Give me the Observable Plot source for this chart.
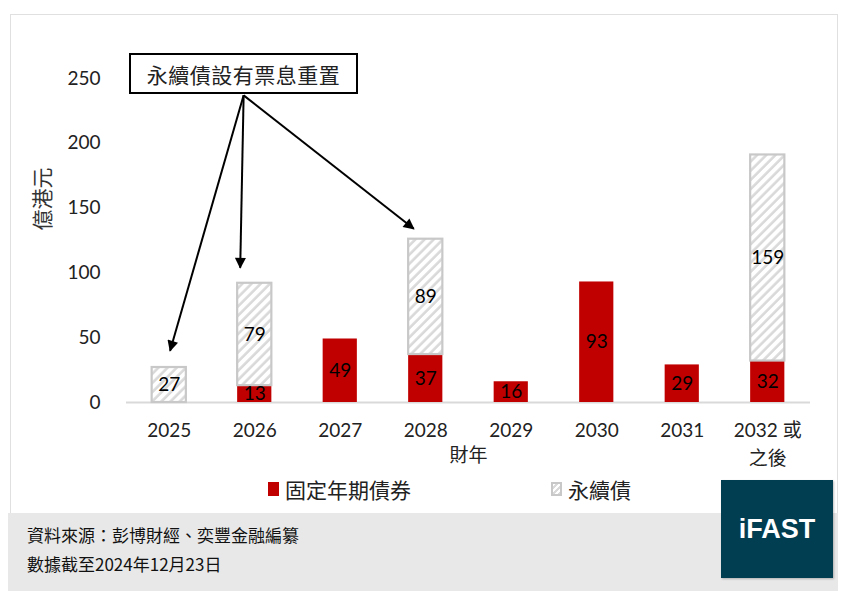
<!DOCTYPE html>
<html>
<head>
<meta charset="utf-8">
<script src="https://cdn.jsdelivr.net/npm/d3@7"></script>
<script src="https://cdn.jsdelivr.net/npm/@observablehq/plot@0.6"></script>
<style>
  html, body { margin: 0; padding: 0; background: #fff; }
  body { width: 847px; height: 602px; position: relative; overflow: hidden;
         font-family: Lato, "Noto Sans CJK TC", sans-serif; }
  #panel { position: absolute; left: 10px; top: 14px; width: 828px; height: 520px;
           border: 1px solid #e0e0e0; background: #fff; box-sizing: border-box; }
  #chart { position: absolute; left: 0; top: 0; }
  #annot { position: absolute; left: 129px; top: 53px; width: 229px; height: 41px;
           border: 2px solid #000; box-sizing: border-box; background: #fff;
           font-family: "Noto Sans CJK TC", sans-serif; font-size: 21px; color: #222;
           display: flex; align-items: center; justify-content: center; letter-spacing: 0.5px; }
  #legend { position: absolute; top: 475px; left: 0; width: 847px; height: 28px;
            font-family: "Noto Sans CJK TC", sans-serif; font-size: 21px; color: #222; }
  .lg { position: absolute; top: 0; display: flex; align-items: center; height: 28px; }
  .sw { width: 11px; height: 14px; margin-right: 6px; box-sizing: border-box; }
  #footer { position: absolute; left: 8px; top: 513px; width: 830px; height: 78px; background: #e8e8e8; }
  .ft { position: absolute; left: 19px; font-family: "Noto Sans CJK TC", sans-serif; font-size: 17px; color: #111; }
  #logo { position: absolute; left: 721px; top: 480px; width: 112px; height: 98px; background: #023e51;
          color: #fff; font-family: "Liberation Sans", Arial, sans-serif; font-weight: bold; font-size: 27px;
          display: flex; align-items: center; justify-content: center; box-shadow: 1px 1px 2px rgba(0,0,0,0.25); }
</style>
</head>
<body>
<div id="panel"></div>
<div id="chart"></div>
<div id="annot">永續債設有票息重置</div>
<div id="legend">
  <div class="lg" style="left:268px"><div class="sw" style="background:#c00000"></div>固定年期債券</div>
  <div class="lg" style="left:551px"><div class="sw" style="border:2px solid #c8c8c8;background:repeating-linear-gradient(135deg,#fff 0 2px,#d9d9d9 2px 4px)"></div>永續債</div>
</div>
<div id="footer">
  <div class="ft" style="top:9px">資料來源：彭博財經、奕豐金融編纂</div>
  <div class="ft" style="top:38px">數據截至2024年12月23日</div>
</div>
<div id="logo">iFAST</div>
<script>
// ---- data ----
const years = [2025, 2026, 2027, 2028, 2029, 2030, 2031, 2032];
const xTickLabels = ["2025", "2026", "2027", "2028", "2029", "2030", "2031", "2032 或\n之後"];
const fixedValues = [0, 13, 49, 37, 16, 93, 29, 32];        // 固定年期債券
const perpetualValues = [27, 79, 0, 89, 0, 0, 0, 159];      // 永續債
const yTicks = [0, 50, 100, 150, 200, 250];
const seriesNames = ["固定年期債券", "永續債"];
const yLabel = "億港元";
const xLabel = "財年";
// annotation arrows (data coordinates): from box to bars
const arrowStart = {x: 2025.87, y: 237};
const arrowTargets = [
  {x: 2025.01, y: 40},
  {x: 2025.83, y: 104},
  {x: 2027.86, y: 134}
];

// ---- derived rows ----
const fixedRows = years.map((yr, i) => ({year: yr, value: fixedValues[i], y1: 0, y2: fixedValues[i]}))
  .filter(d => d.value > 0);
const perpRows = years.map((yr, i) => ({year: yr, value: perpetualValues[i], y1: fixedValues[i], y2: fixedValues[i] + perpetualValues[i]}))
  .filter(d => d.value > 0);
const arrows = arrowTargets.map(t => ({x1: arrowStart.x, y1: arrowStart.y, x2: t.x, y2: t.y}));

const half = 0.2;
const font = 'Lato, "Noto Sans CJK TC", sans-serif';

const chart = Plot.plot({
  width: 847,
  height: 470,
  marginLeft: 126,
  marginRight: 37,
  marginTop: 78,
  marginBottom: 68,
  style: {fontFamily: font, fontSize: "19px", color: "#222", background: "transparent", overflow: "visible"},
  x: {type: "linear", domain: [2024.5, 2032.5]},
  y: {domain: [0, 250]},
  marks: [
    Plot.ruleY([0], {stroke: "#d9d9d9", strokeWidth: 2}),
    Plot.rect(fixedRows, {x1: d => d.year - half, x2: d => d.year + half, y1: "y1", y2: "y2", fill: "#c00000"}),
    Plot.rect(perpRows, {x1: d => d.year - half, x2: d => d.year + half, y1: "y1", y2: "y2",
      fill: "url(#hatch)", stroke: "#c8c8c8", strokeWidth: 2.2}),
    Plot.text(fixedRows, {x: "year", y: d => (d.y1 + d.y2) / 2, text: d => String(d.value), fill: "#000", fontSize: 19}),
    Plot.text(perpRows, {x: "year", y: d => (d.y1 + d.y2) / 2, text: d => String(d.value), fill: "#000", fontSize: 19}),
    Plot.link(arrows, {x1: "x1", y1: "y1", x2: "x2", y2: "y2", stroke: "#000", strokeWidth: 2, className: "ann-arrow"}),
    Plot.axisY({ticks: yTicks, tickSize: 0, tickPadding: 26, label: null, fontSize: 19, fill: "#222"}),
    Plot.text([yLabel], {frameAnchor: "left", rotate: -90, dx: -83, dy: -10, fontSize: 21, fill: "#333",
      fontFamily: '"Noto Sans CJK TC", sans-serif'}),
    Plot.axisX({ticks: years, tickFormat: d => xTickLabels[years.indexOf(d)], tickSize: 0, tickPadding: 15,
      lineHeight: 1.45, label: xLabel, labelAnchor: "center", labelArrow: "none", labelOffset: 59, fontSize: 19, fill: "#222"})
  ]
});

// pattern & marker defs
const svg = d3.select(chart);
const defs = svg.insert("defs", ":first-child");
const pat = defs.append("pattern").attr("id", "hatch").attr("patternUnits", "userSpaceOnUse")
  .attr("width", 6.5).attr("height", 6.5).attr("patternTransform", "rotate(45)");
pat.append("rect").attr("width", 6.5).attr("height", 6.5).attr("fill", "#fff");
pat.append("line").attr("x1", 1.5).attr("y1", 0).attr("x2", 1.5).attr("y2", 6.5)
  .attr("stroke", "#d9d9d9").attr("stroke-width", 2.6);
defs.append("marker").attr("id", "ah").attr("viewBox", "0 0 10 10").attr("refX", 9).attr("refY", 5)
  .attr("markerWidth", 6).attr("markerHeight", 5.5).attr("orient", "auto").attr("markerUnits", "strokeWidth")
  .append("path").attr("d", "M0,0L10,5L0,10z").attr("fill", "#000");
svg.selectAll(".ann-arrow path, .ann-arrow line").attr("marker-end", "url(#ah)");

document.getElementById("chart").appendChild(chart);
</script>
</body>
</html>
